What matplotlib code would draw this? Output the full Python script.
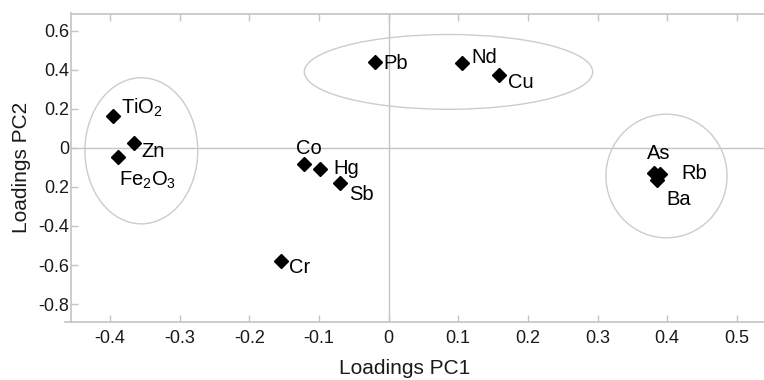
import matplotlib
matplotlib.use("Agg")
import matplotlib.pyplot as plt
from matplotlib.patches import Ellipse

plt.rcParams['font.family'] = ['Liberation Sans', 'DejaVu Sans']
plt.rcParams['mathtext.fontset'] = 'custom'
plt.rcParams['mathtext.rm'] = 'Liberation Sans'
plt.rcParams['mathtext.it'] = 'Liberation Sans:italic'
plt.rcParams['mathtext.bf'] = 'Liberation Sans:bold'

# ---- data ----
labels = ['TiO$_2$', 'Zn', 'Fe$_2$O$_3$', 'Co', 'Hg', 'Sb', 'Cr',
          'Pb', 'Nd', 'Cu', 'As', 'Rb', 'Ba']
pc1 = [-0.395, -0.366, -0.389, -0.122, -0.099, -0.070, -0.155,
       -0.020, 0.106, 0.158, 0.381, 0.390, 0.386]
pc2 = [0.163, 0.027, -0.046, -0.083, -0.109, -0.182, -0.577,
       0.440, 0.437, 0.372, -0.130, -0.133, -0.165]
# label offsets (pixels) relative to each point, baseline-aligned
lab_dx = [8, 8, 1, -8, 14, 9, 8, 9, 9, 9, -7, 21, 9]
lab_dy = [2, -14, -29, 10, -5, -17, -12, -7, 0, -13, 14, -5, -25]

# group ellipses: centre x, centre y, width, height
ell_cx = [-0.355, 0.086, 0.399]
ell_cy = [-0.015, 0.389, -0.144]
ell_w = [0.162, 0.414, 0.174]
ell_h = [0.748, 0.383, 0.633]

xticks = [-0.4, -0.3, -0.2, -0.1, 0, 0.1, 0.2, 0.3, 0.4, 0.5]
xticklabels = ['-0.4', '-0.3', '-0.2', '-0.1', '0', '0.1', '0.2', '0.3', '0.4', '0.5']
yticks = [0.6, 0.4, 0.2, 0, -0.2, -0.4, -0.6, -0.8]
yticklabels = ['0.6', '0.4', '0.2', '0', '0.2', '-0.4', '-0.6', '-0.8']

# ---- figure ----
fig = plt.figure(figsize=(7.64, 3.80), dpi=100)
ax = fig.add_axes([71/764, (380-321.7)/380, (764-71)/764, (321.7-13.5)/380])
ax.set_xlim(-0.456, 0.539)
ax.set_ylim(-0.890, 0.688)

grey = '#c4c4c4'
ax.axhline(0, color=grey, lw=1.0, zorder=1)
ax.axvline(0, color=grey, lw=1.0, zorder=1)

for cx, cy, w, h in zip(ell_cx, ell_cy, ell_w, ell_h):
    ax.add_patch(Ellipse((cx, cy), w, h, fill=False, edgecolor='#cccccc', lw=1.0, zorder=1))

ax.plot(pc1, pc2, linestyle='none', marker='D', markersize=7,
        color='black', zorder=3)

for x, y, t, dx, dy in zip(pc1, pc2, labels, lab_dx, lab_dy):
    ax.annotate(t, (x, y), xytext=(dx, dy), textcoords='offset pixels',
                ha='left', va='baseline', fontsize=14.5, color='black', zorder=4)

ax.set_xticks(xticks)
ax.set_xticklabels(xticklabels)
ax.set_yticks(yticks)
ax.set_yticklabels(yticklabels)

ax.tick_params(axis='both', direction='in', length=5, width=1, color=grey,
               labelsize=13, labelcolor='#1a1a1a')
ax.tick_params(axis='x', top=True, pad=6)
ax.tick_params(axis='y', pad=1)

for s in ['left', 'top', 'bottom']:
    ax.spines[s].set_color(grey)
    ax.spines[s].set_linewidth(1.2)
ax.spines['right'].set_visible(False)
ax.spines['bottom'].set_bounds(-0.465, 0.539)

ax.set_xlabel('Loadings PC1', fontsize=15, color='#1a1a1a')
ax.set_ylabel('Loadings PC2', fontsize=15, color='#1a1a1a')
ax.xaxis.set_label_coords((404.7-71)/693, (321.7-369)/308.2)
ax.xaxis.label.set_va('center')
ax.yaxis.set_label_coords((22-71)/693, 0.5)
ax.yaxis.label.set_va('center')

fig.savefig('out.png', dpi=100)
